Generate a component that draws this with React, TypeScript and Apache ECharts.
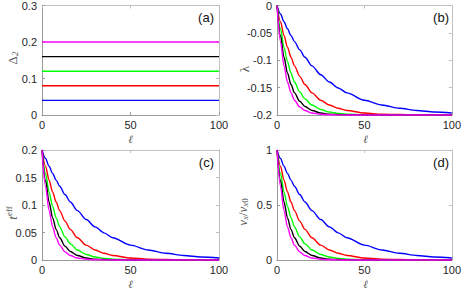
import React, { useEffect, useRef } from "react";
import * as echarts from "echarts";

// ℓ sample positions
const ELL = [0, 2, 4, 6, 8, 10, 13, 16, 20, 25, 30, 35, 40, 50, 60, 70, 80, 90, 100];

// panel (a): constant Δ2 levels
const DELTA2 = [0.04, 0.08, 0.12, 0.16, 0.2];

// panel (b): λ
const lamBlue = [0, -0.0154, -0.0296, -0.0426, -0.0548, -0.066, -0.081, -0.0946, -0.1102, -0.1264, -0.1398, -0.1506, -0.1596, -0.173, -0.1818, -0.1878, -0.1918, -0.1946, -0.1964];
const lamRed = [0, -0.0296, -0.0548, -0.0762, -0.0946, -0.1102, -0.1294, -0.1444, -0.1596, -0.173, -0.1818, -0.1878, -0.1918, -0.1964, -0.1984, -0.1992, -0.1996, -0.1998, -0.1999];
const lamGreen = [0, -0.0426, -0.0762, -0.1026, -0.1234, -0.1398, -0.158, -0.1706, -0.1818, -0.19, -0.1946, -0.197, -0.1984, -0.1995, -0.1999, -0.2, -0.2, -0.2, -0.2];
const lamBlack = [0, -0.0548, -0.0946, -0.1234, -0.1444, -0.1596, -0.175, -0.1846, -0.1918, -0.1964, -0.1984, -0.1992, -0.1996, -0.1999, -0.2, -0.2, -0.2, -0.2, -0.2];
const lamMagenta = [0, -0.066, -0.1102, -0.1398, -0.1596, -0.173, -0.1852, -0.1918, -0.1964, -0.1986, -0.1995, -0.1998, -0.1999, -0.2, -0.2, -0.2, -0.2, -0.2, -0.2];

// panel (c): t^eff
const tBlue = [0.2, 0.1846, 0.1704, 0.1574, 0.1452, 0.134, 0.119, 0.1054, 0.0898, 0.0736, 0.0602, 0.0494, 0.0404, 0.027, 0.0182, 0.0122, 0.0082, 0.0054, 0.0036];
const tRed = [0.2, 0.1704, 0.1452, 0.1238, 0.1054, 0.0898, 0.0706, 0.0556, 0.0404, 0.027, 0.0182, 0.0122, 0.0082, 0.0036, 0.0016, 0.0008, 0.0004, 0.0002, 0.0001];
const tGreen = [0.2, 0.1574, 0.1238, 0.0974, 0.0766, 0.0602, 0.042, 0.0294, 0.0182, 0.01, 0.0054, 0.003, 0.0016, 0.0005, 0.0001, 0, 0, 0, 0];
const tBlack = [0.2, 0.1452, 0.1054, 0.0766, 0.0556, 0.0404, 0.025, 0.0154, 0.0082, 0.0036, 0.0016, 0.0008, 0.0004, 0.0001, 0, 0, 0, 0, 0];
const tMagenta = [0.2, 0.134, 0.0898, 0.0602, 0.0404, 0.027, 0.0148, 0.0082, 0.0036, 0.0014, 0.0005, 0.0002, 0.0001, 0, 0, 0, 0, 0, 0];

// panel (d): v_x / v_x0
const vBlue = [1, 0.923, 0.852, 0.787, 0.726, 0.67, 0.595, 0.527, 0.449, 0.368, 0.301, 0.247, 0.202, 0.135, 0.091, 0.061, 0.041, 0.027, 0.018];
const vRed = [1, 0.852, 0.726, 0.619, 0.527, 0.449, 0.353, 0.278, 0.202, 0.135, 0.091, 0.061, 0.041, 0.018, 0.008, 0.004, 0.002, 0.001, 0.0003];
const vGreen = [1, 0.787, 0.619, 0.487, 0.383, 0.301, 0.21, 0.147, 0.091, 0.05, 0.027, 0.015, 0.008, 0.0025, 0.0007, 0.0002, 0.0001, 0, 0];
const vBlack = [1, 0.726, 0.527, 0.383, 0.278, 0.202, 0.125, 0.077, 0.041, 0.018, 0.008, 0.004, 0.002, 0.0003, 0, 0, 0, 0, 0];
const vMagenta = [1, 0.67, 0.449, 0.301, 0.202, 0.135, 0.074, 0.041, 0.018, 0.007, 0.0025, 0.001, 0.0003, 0, 0, 0, 0, 0, 0];

const COLORS = ["#0000ff", "#ff0000", "#00ff00", "#000000", "#ff00ff"];
const PANEL_B = [lamBlue, lamRed, lamGreen, lamBlack, lamMagenta];
const PANEL_C = [tBlue, tRed, tGreen, tBlack, tMagenta];
const PANEL_D = [vBlue, vRed, vGreen, vBlack, vMagenta];

const X_TICKS = { min: 0, max: 100, interval: 50 };
const PANEL_LABELS = ["(a)", "(b)", "(c)", "(d)"];

const GRIDS = [
  { left: 42, top: 5, width: 177, height: 110 },
  { left: 277, top: 5, width: 177, height: 110 },
  { left: 42, top: 150, width: 177, height: 110 },
  { left: 277, top: 150, width: 177, height: 110 },
];
const Y_RANGES = [
  { min: 0, max: 0.3, interval: 0.1 },
  { min: -0.2, max: 0, interval: 0.05 },
  { min: 0, max: 0.2, interval: 0.05 },
  { min: 0, max: 1, interval: 0.5 },
];

const AXIS_COLOR = "#9a9a9a";
const AXIS_COLOR2 = "#c0c0c0";
const LABEL_COLOR = "#262626";
const LINE_W = 1.4;

export default function App() {
  const ref = useRef<HTMLDivElement>(null);
  useEffect(() => {
    if (!ref.current) return;
    const chart = echarts.init(ref.current, undefined, { renderer: "svg" });

    const xAxis: any[] = [];
    const yAxis: any[] = [];
    GRIDS.forEach((_, i) => {
      xAxis.push({
        type: "value",
        gridIndex: i,
        position: "bottom",
        ...X_TICKS,
        axisLine: { show: true, onZero: false, lineStyle: { color: AXIS_COLOR, width: 1 } },
        axisTick: { show: true, inside: true, length: 3, lineStyle: { color: AXIS_COLOR } },
        axisLabel: { color: LABEL_COLOR, fontSize: 11, fontFamily: "Liberation Sans", margin: 4, lineHeight: 12 },
        splitLine: { show: false },
      });
      xAxis.push({
        type: "value",
        gridIndex: i,
        position: "top",
        ...X_TICKS,
        axisLine: { show: true, onZero: false, lineStyle: { color: AXIS_COLOR2, width: 1 } },
        axisTick: { show: true, inside: true, length: 3, lineStyle: { color: AXIS_COLOR2 } },
        axisLabel: { show: false },
        splitLine: { show: false },
      });
      yAxis.push({
        type: "value",
        gridIndex: i,
        position: "left",
        ...Y_RANGES[i],
        axisLine: { show: true, onZero: false, lineStyle: { color: AXIS_COLOR, width: 1 } },
        axisTick: { show: true, inside: true, length: 3, lineStyle: { color: AXIS_COLOR } },
        axisLabel: { color: LABEL_COLOR, fontSize: 11, fontFamily: "Liberation Sans", margin: 5 },
        splitLine: { show: false },
      });
      yAxis.push({
        type: "value",
        gridIndex: i,
        position: "right",
        ...Y_RANGES[i],
        axisLine: { show: true, onZero: false, lineStyle: { color: AXIS_COLOR2, width: 1 } },
        axisTick: { show: true, inside: true, length: 3, lineStyle: { color: AXIS_COLOR2 } },
        axisLabel: { show: false },
        splitLine: { show: false },
      });
    });

    const series: any[] = [];
    const base = {
      type: "line",
      showSymbol: false,
      symbol: "none",
      clip: false,
      smooth: 0.3,
      smoothMonotone: "x",
    };
    // (a)
    DELTA2.forEach((d, k) => {
      series.push({
        ...base,
        smooth: false,
        xAxisIndex: 0,
        yAxisIndex: 0,
        data: [[X_TICKS.min, d], [X_TICKS.max, d]],
        lineStyle: { color: COLORS[k], width: LINE_W },
      });
    });
    // (b), (c), (d)
    [PANEL_B, PANEL_C, PANEL_D].forEach((panel, p) => {
      panel.forEach((vals, k) => {
        series.push({
          ...base,
          xAxisIndex: 2 * (p + 1),
          yAxisIndex: 2 * (p + 1),
          data: ELL.map((l, j) => [l, vals[j]]),
          lineStyle: { color: COLORS[k], width: LINE_W },
        });
      });
    });

    const nameColor = "#555555";
    const serif = "Liberation Serif";
    const graphic: any[] = [];
    GRIDS.forEach((g, i) => {
      graphic.push({
        type: "text",
        x: g.left + g.width - 5,
        y: g.top + 12,
        style: {
          text: PANEL_LABELS[i],
          font: "13px 'Liberation Sans'",
          fill: "#111111",
          textAlign: "right",
          textVerticalAlign: "middle",
        },
        z: 10,
      });
      graphic.push({
        type: "text",
        x: g.left + g.width / 2,
        y: g.top + g.height + 24,
        style: {
          text: "ℓ",
          font: "italic 11px 'DejaVu Serif'",
          fill: nameColor,
          textAlign: "center",
          textVerticalAlign: "middle",
        },
      });
    });
    const yNames = [
      { text: "{m|Δ}{s|2}", x: 12, y: 58 },
      { text: "{m|λ}", x: 244, y: 69 },
      { text: "{i|t}{p|eff}", x: 12, y: 213 },
      { text: "{i|v}{s|x}{m|/}{i|v}{s|x}{n|0}", x: 242, y: 212 },
    ];
    yNames.forEach((n) => {
      graphic.push({
        type: "text",
        x: n.x,
        y: n.y,
        rotation: Math.PI / 2,
        style: {
          text: n.text,
          textAlign: "center",
          textVerticalAlign: "middle",
          fill: nameColor,
          rich: {
            m: { fontFamily: serif, fontSize: 13, color: nameColor },
            i: { fontFamily: serif, fontStyle: "italic", fontSize: 13, color: nameColor },
            s: { fontFamily: serif, fontStyle: "italic", fontSize: 9, color: nameColor, padding: [6, 0, 0, 0] },
            n: { fontFamily: serif, fontSize: 9, color: nameColor, padding: [6, 0, 0, 0] },
            p: { fontFamily: serif, fontSize: 9, color: nameColor, padding: [0, 0, 6, 0] },
          },
        },
      });
    });

    chart.setOption({
      animation: false,
      backgroundColor: "#ffffff",
      grid: GRIDS.map((g) => ({ ...g, containLabel: false })),
      xAxis,
      yAxis,
      series,
      graphic,
    });
    return () => chart.dispose();
  }, []);
  return (
    <div
      ref={ref}
      style={{ position: "fixed", left: 0, top: 0, width: 464, height: 290, background: "#fff" }}
    />
  );
}
